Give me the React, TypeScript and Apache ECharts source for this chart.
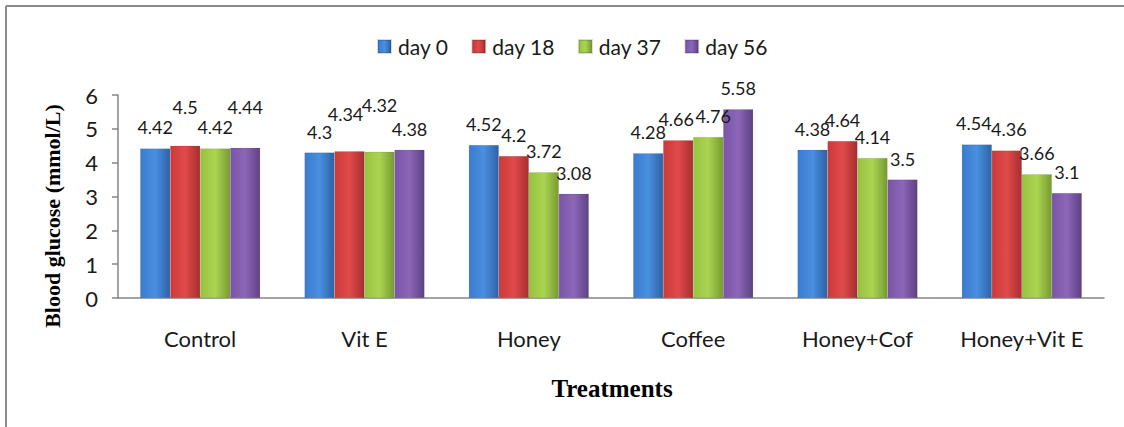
import React, { useEffect, useRef } from "react";
import * as echarts from "echarts";

const categories = ["Control", "Vit E", "Honey", "Coffee", "Honey+Cof", "Honey+Vit E"];
const seriesNames = ["day 0", "day 18", "day 37", "day 56"];
const day0 = [4.42, 4.3, 4.52, 4.28, 4.38, 4.54];
const day18 = [4.5, 4.34, 4.2, 4.66, 4.64, 4.36];
const day37 = [4.42, 4.32, 3.72, 4.76, 4.14, 3.66];
const day56 = [4.44, 4.38, 3.08, 5.58, 3.5, 3.1];
const yTicks = [0, 1, 2, 3, 4, 5, 6];

// label nudges (px) for a few staggered labels, keyed "seriesIndex-categoryIndex": [dx, dy]
const labelNudge: Record<string, number[]> = {
  "1-0": [0, -18],
  "3-0": [0, -20],
  "1-1": [-4, -16],
  "2-1": [0, -26],
  "1-3": [-2, 0],
  "2-3": [5, 0],
  "0-5": [-3, 0],
  "1-5": [2, 0],
};

const colors = [
  ["#4a8fe0", "#3a7bcc", "#2d62a6"],
  ["#e04a4a", "#cc3a3a", "#a82e2e"],
  ["#abd452", "#97c240", "#779b30"],
  ["#8c66b8", "#7a55a6", "#5f4185"],
];

export default function App() {
  const ref = useRef<HTMLDivElement>(null);
  useEffect(() => {
    if (!ref.current) return;
    const chart = echarts.init(ref.current, null, { renderer: "svg" });
    const all = [day0, day18, day37, day56];
    const font = "Lato, 'Open Sans', sans-serif";
    const grad = (c: string[]) =>
      new echarts.graphic.LinearGradient(0, 0, 1, 0, [
        { offset: 0, color: c[1] },
        { offset: 0.5, color: c[0] },
        { offset: 1, color: c[2] },
      ]);
    chart.setOption({
      animation: false,
      backgroundColor: "#ffffff",
      legend: {
        data: seriesNames,
        icon: "rect",
        left: 372,
        top: 31,
        itemWidth: 13,
        itemHeight: 13,
        itemGap: 23,
        textStyle: { fontFamily: font, fontSize: 21, color: "#1a1a1a", padding: [0, 0, 0, 2] },
      },
      grid: { left: 118, right: 20, top: 95, bottom: 129, containLabel: false },
      xAxis: {
        type: "category",
        data: categories,
        axisLine: { lineStyle: { color: "#868686", width: 1.5 } },
        axisTick: { length: 6, lineStyle: { color: "#868686", width: 1.5 } },
        axisLabel: { fontFamily: font, fontSize: 22, color: "#1a1a1a", margin: 29 },
      },
      yAxis: {
        type: "value",
        min: yTicks[0],
        max: yTicks[yTicks.length - 1],
        interval: 1,
        axisLine: { show: true, lineStyle: { color: "#868686", width: 1.5 } },
        axisTick: { show: true, length: 6, lineStyle: { color: "#868686", width: 1.5 } },
        splitLine: { show: false },
        axisLabel: { fontFamily: font, fontSize: 22, color: "#1a1a1a", margin: 20 },
      },
      graphic: [
        { type: "line", shape: { x1: 6, y1: 6, x2: 1124, y2: 6 }, style: { stroke: "#8a8a8a", lineWidth: 2 } },
        { type: "line", shape: { x1: 6, y1: 6, x2: 6, y2: 427 }, style: { stroke: "#8a8a8a", lineWidth: 2 } },
        {
          type: "text",
          x: 52,
          y: 216,
          rotation: Math.PI / 2,
          style: {
            text: "Blood glucose (mmol/L)",
            font: "bold 22px 'Liberation Serif', 'Times New Roman', serif",
            fill: "#000",
            textAlign: "center",
            textVerticalAlign: "middle",
          },
        },
        {
          type: "text",
          x: 612,
          y: 388,
          style: {
            text: "Treatments",
            font: "bold 25px 'Liberation Serif', 'Times New Roman', serif",
            fill: "#000",
            textAlign: "center",
            textVerticalAlign: "middle",
          },
        },
      ],
      series: all.map((vals, si) => ({
        name: seriesNames[si],
        type: "bar",
        barWidth: 30,
        barGap: "0%",
        itemStyle: { color: grad(colors[si]), borderColor: "rgba(0,0,0,0.15)", borderWidth: 0.5 },
        label: {
          show: true,
          position: "top",
          distance: 12,
          fontFamily: font,
          fontSize: 18,
          color: "#1a1a1a",
        },
        data: vals.map((v, ci) => {
          const n = labelNudge[`${si}-${ci}`];
          return n ? { value: v, label: { offset: n } } : v;
        }),
      })),
    });
    return () => chart.dispose();
  }, []);
  return (
    <div
      ref={ref}
      style={{ position: "absolute", left: 0, top: 0, width: 1124, height: 427, background: "#fff" }}
    />
  );
}
